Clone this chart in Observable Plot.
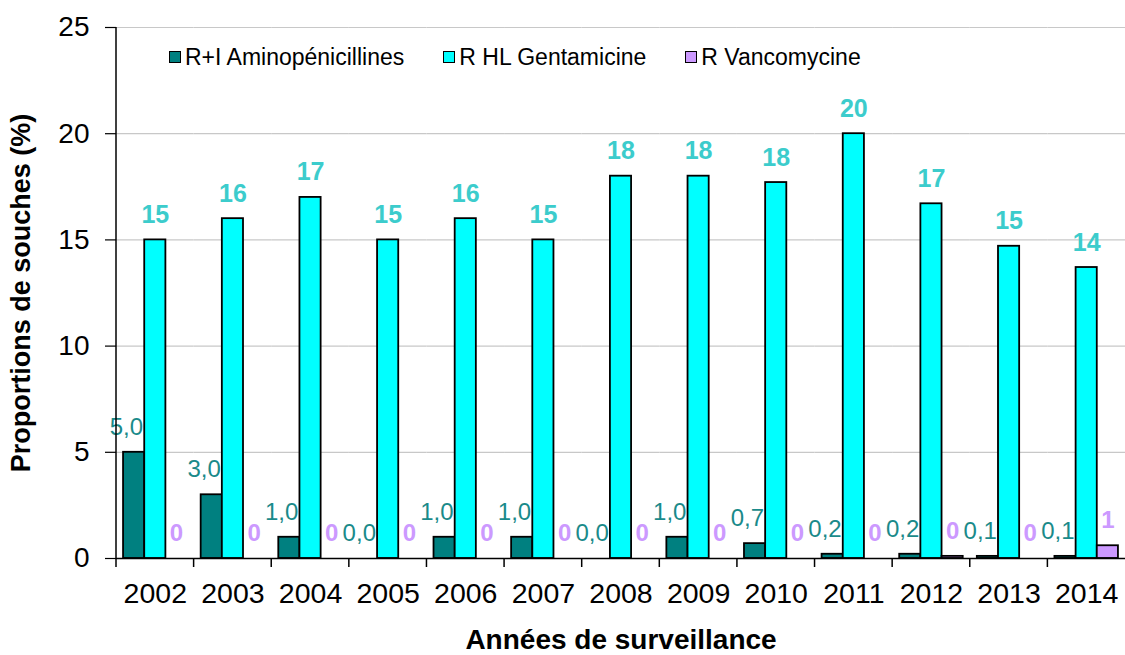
<!DOCTYPE html>
<html><head><meta charset="utf-8">
<script src="https://cdn.jsdelivr.net/npm/d3@7"></script>
<script src="https://cdn.jsdelivr.net/npm/@observablehq/plot@0.6"></script>
<style>
body{margin:0;background:#fff;font-family:"Liberation Sans",Arial,sans-serif;}
#wrap{position:relative;width:1125px;height:655px;overflow:hidden;}
#legend{position:absolute;left:169px;top:44px;display:flex;gap:39px;font-size:23px;color:#000;line-height:26px;}
.item{display:flex;align-items:center;gap:4px;}
.sw{width:10px;height:10px;border:1.5px solid #000;}
</style></head><body><div id="wrap"><div id="legend"></div></div>
<script>
const years = [2002,2003,2004,2005,2006,2007,2008,2009,2010,2011,2012,2013,2014];
const series = ["R+I Aminopénicillines","R HL Gentamicine","R Vancomycine"];
const aminopenicillines = [5.0,3.0,1.0,0.0,1.0,1.0,0.0,1.0,0.7,0.2,0.2,0.1,0.1];
const gentamicine = [15,16,17,15,16,15,18,18,17.7,20,16.7,14.7,13.7];
const vancomycine = [0,0,0,0,0,0,0,0,0,0,0.1,0,0.6];
const yTicks = [0,5,10,15,20,25];
const colors = ["#008080","#00ffff","#cc99ff"];
const labelColors = ["#1a8a8a","#3ccccc","#cc99ff"];
const font = '"Liberation Sans", Arial, sans-serif';

const fmt1 = v => v.toFixed(1).replace(".", ",");
const fmt0 = v => String(Math.round(v));
const rows = years.flatMap((year, i) => [
  {year, series: series[0], value: aminopenicillines[i], label: fmt1(aminopenicillines[i])},
  {year, series: series[1], value: gentamicine[i], label: fmt0(gentamicine[i])},
  {year, series: series[2], value: vancomycine[i], label: fmt0(vancomycine[i])}
]);
const bySeries = k => rows.filter(d => d.series === series[k]);

const chart = Plot.plot({
  width: 1125, height: 655,
  marginLeft: 116, marginRight: 0, marginTop: 27, marginBottom: 97,
  style: {fontFamily: font, fontSize: "28px", color: "#000", background: "#fff", overflow: "visible"},
  fx: {domain: years, padding: 0, round: false, label: null},
  x: {domain: series, paddingInner: 0, paddingOuter: 1/3, round: false, axis: null},
  y: {domain: [0, 25], label: null},
  color: {domain: series, range: colors},
  marks: [
    Plot.gridY(yTicks.filter(t => t > 0), {stroke: "#c8c8c8", strokeOpacity: 1, strokeWidth: 1.2}),
    Plot.axisY(yTicks, {tickSize: 11, tickPadding: 16, fontSize: 28, label: null, stroke: "#000", strokeWidth: 1.2}),
    Plot.axisY([], {label: "Proportions de souches (%)", labelArrow: "none", labelAnchor: "center", labelOffset: 106, fontSize: 27, fontWeight: "bold"}),
    Plot.axisFx({anchor: "bottom", tickSize: 0, tickPadding: 24, fontSize: 28.5, tickFormat: d => String(d), label: null}),
    Plot.axisFx([], {anchor: "bottom", label: "Années de surveillance", labelArrow: "none", labelAnchor: "center", labelOffset: 90, fontSize: 28, fontWeight: "bold"}),
    Plot.barY(rows.filter(d => d.value > 0), {fx: "year", x: "series", y: "value", fill: "series", stroke: "#000", strokeWidth: 1.8}),
    Plot.ruleY([0], {stroke: "#000", strokeWidth: 1.5}),
    Plot.text(bySeries(0), {fx: "year", x: "series", y: "value", text: "label", dy: -25, dx: 9, textAnchor: "end", lineAnchor: "middle", fill: labelColors[0], fontSize: 24}),
    Plot.text(bySeries(1), {fx: "year", x: "series", y: "value", text: "label", dy: -25, lineAnchor: "middle", fill: labelColors[1], fontSize: 25, fontWeight: "bold"}),
    Plot.text(bySeries(2), {fx: "year", x: "series", y: "value", text: "label", dy: -25, lineAnchor: "middle", fill: labelColors[2], fontSize: 24, fontWeight: "bold"})
  ]
});

// y-axis line and year-boundary ticks, positioned from the plot's own scales
const fx = chart.scale("fx"), y = chart.scale("y");
const svg = d3.select(chart);
const g = svg.append("g").attr("stroke", "#000").attr("stroke-width", 1.5);
const x0 = fx.apply(years[0]);
g.append("line").attr("x1", x0).attr("x2", x0).attr("y1", y.apply(0)).attr("y2", y.apply(25));
const bounds = years.map(v => fx.apply(v));
g.selectAll("line.t").data(bounds).join("line").attr("class", "t")
  .attr("x1", d => d).attr("x2", d => d).attr("y1", y.apply(0)).attr("y2", y.apply(0) + 9);

document.getElementById("wrap").prepend(chart);
const legend = document.getElementById("legend");
series.forEach((s, i) => {
  const it = document.createElement("div"); it.className = "item";
  const sw = document.createElement("div"); sw.className = "sw"; sw.style.background = colors[i];
  const t = document.createElement("span"); t.textContent = s;
  it.append(sw, t); legend.append(it);
});
</script></body></html>
